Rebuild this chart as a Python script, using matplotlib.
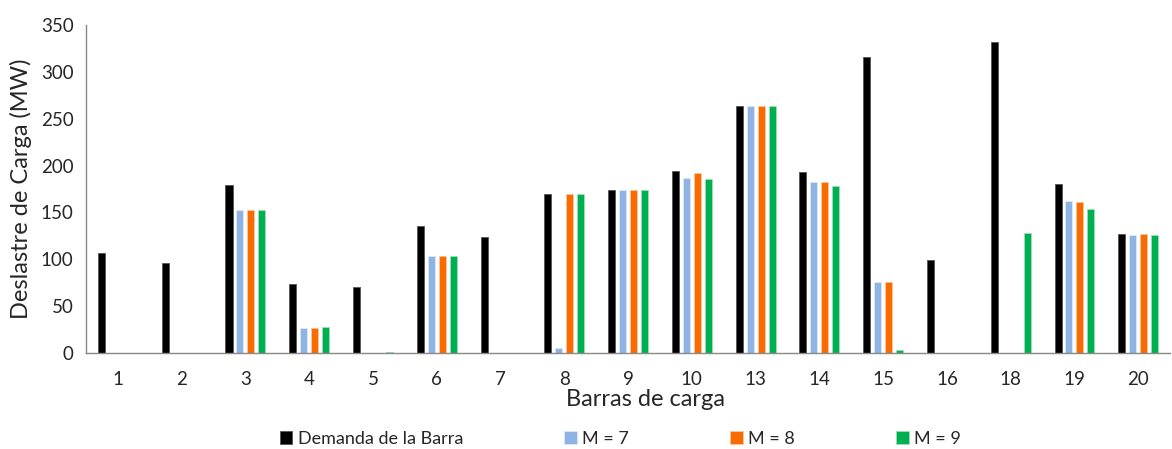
import numpy as np
from matplotlib import pyplot as plt

barras = ['1', '2', '3', '4', '5', '6', '7', '8', '9', '10', '13', '14', '15', '16', '18', '19', '20']
demanda = [107, 96, 179, 74, 70, 135, 124, 170, 174, 194, 264, 193, 316, 99, 332, 180, 127]
m7 = [0, 0, 153, 27, 0, 103, 0, 5, 174, 187, 264, 183, 76, 0, 0, 162, 126]
m8 = [0, 0, 153, 27, 0, 103, 0, 170, 174, 192, 264, 183, 76, 0, 0, 161, 127]
m9 = [0, 0, 153, 28, 1, 103, 0, 170, 174, 186, 264, 178, 3, 0, 128, 154, 126]

series = [
    ('Demanda de la Barra', demanda, '#000000', '#555555'),
    ('M = 7', m7, '#8DB4E2', '#dce8f6'),
    ('M = 8', m8, '#F96A00', '#fbc79c'),
    ('M = 9', m9, '#00B050', '#9be0b8'),
]

plt.rcParams['font.family'] = ['Lato', 'DejaVu Sans']

fig = plt.figure(figsize=(11.72, 4.49), dpi=100)
ax = fig.add_axes([0.0734, 0.214, 0.925, 0.730])

x = np.arange(len(barras))
step = 0.172
width = 0.11
for i, (name, vals, color, edge) in enumerate(series):
    ax.bar(x + (i - 1.5) * step, vals, width, color=color, edgecolor=edge,
           linewidth=0.6, label=name)

ax.set_xlim(-0.5, len(barras) - 0.5)
ax.set_ylim(0, 350)
ax.set_yticks(range(0, 351, 50))
ax.set_xticks(x)
ax.set_xticklabels(barras)
ax.tick_params(axis='both', length=0, labelsize=13.5, colors='#262626')
ax.tick_params(axis='x', pad=13)
ax.tick_params(axis='y', pad=9)

for s in ['top', 'right']:
    ax.spines[s].set_visible(False)
for s in ['left', 'bottom']:
    ax.spines[s].set_color('#888888')
    ax.spines[s].set_linewidth(1)

ax.set_xlabel('Barras de carga', fontsize=17, color='#262626', labelpad=-2)
ax.xaxis.set_label_coords(0.516, -0.11)
ax.set_ylabel('Deslastre de Carga (MW)', fontsize=17, color='#262626', labelpad=6)

ax.legend(loc='center', bbox_to_anchor=(0.493, -0.262), ncol=4, frameon=False,
          fontsize=13, handlelength=0.7, handleheight=0.7, handletextpad=0.3,
          columnspacing=5.6, labelcolor='#262626')

fig.savefig('out.png', dpi=100)
